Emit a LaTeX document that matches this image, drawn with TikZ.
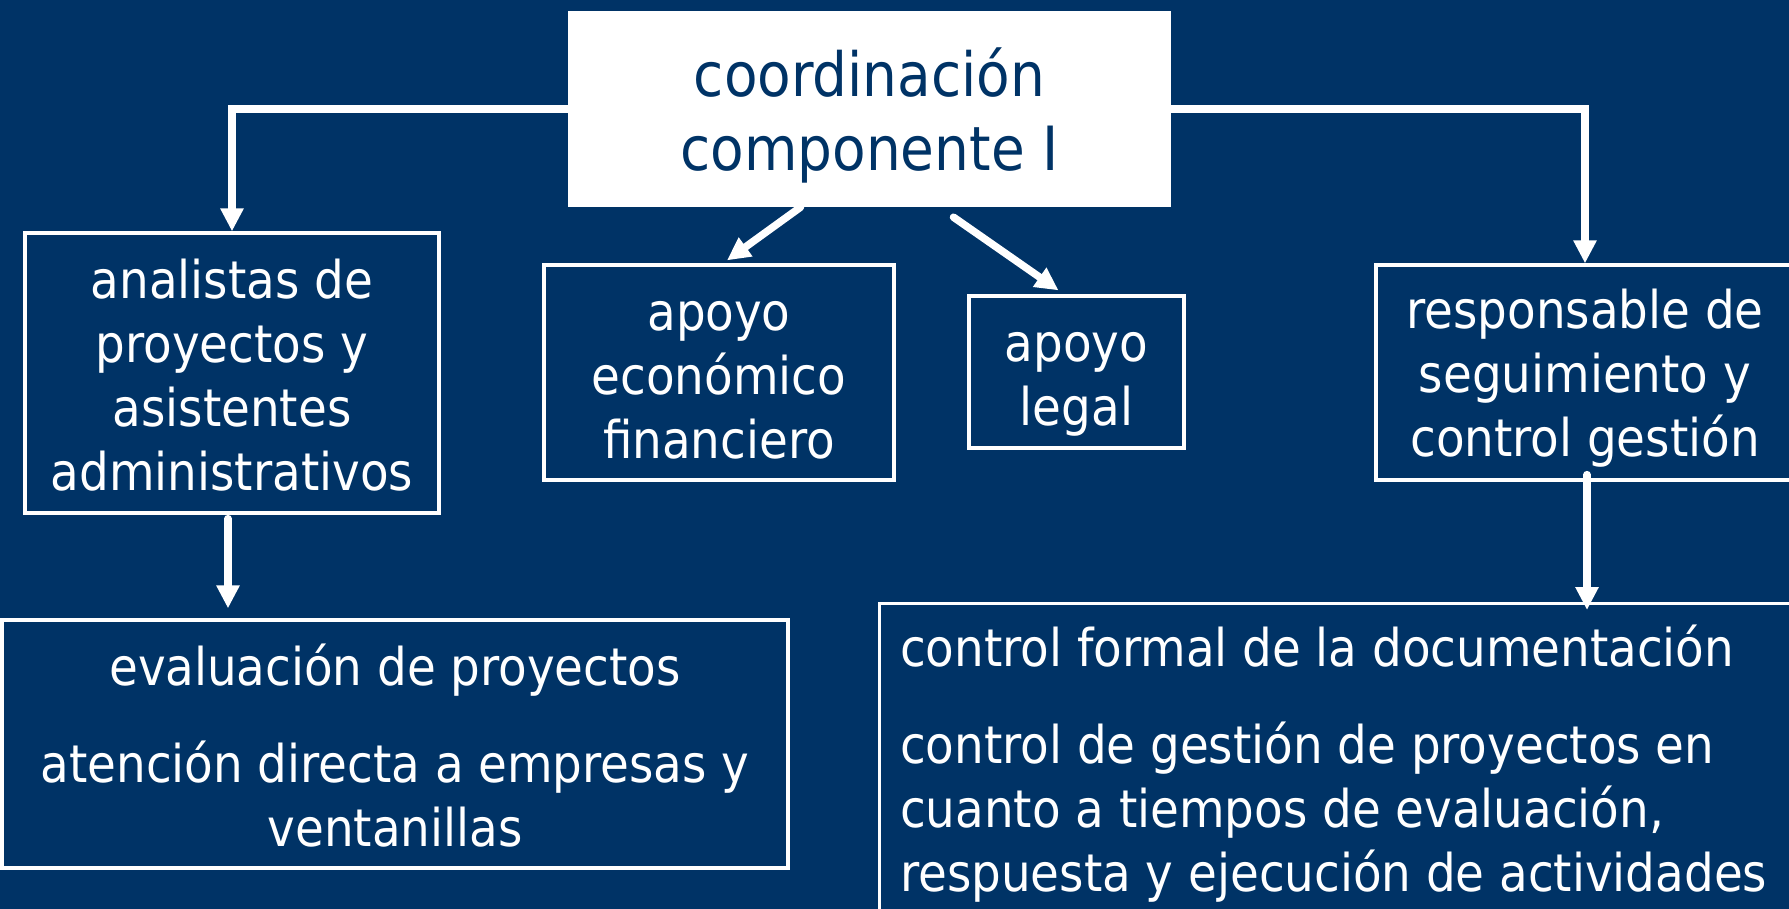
\documentclass[tikz,border=0pt]{standalone}
\usepackage{fontspec}
\setmainfont{DejaVu Sans Condensed}
\usetikzlibrary{arrows.meta,calc,positioning}
\definecolor{navy}{RGB}{0,51,102}
\tikzstyle{headbox} = [rectangle,fill=white,minimum width=603pt,minimum height=196pt]
\tikzstyle{headtext} = [text=navy,align=center,font=\fontsize{61}{74}\selectfont]
\tikzstyle{unitbox} = [rectangle,draw=white,line width=3.3pt]
\tikzstyle{unittext} = [text=white,align=center,font=\fontsize{52}{64}\selectfont]
\tikzstyle{link} = [draw=white,line width=7.5pt,-{Triangle[length=23pt,width=22pt]}]

\begin{document}
\begin{tikzpicture}[x=1pt,y=-1pt]

\useasboundingbox (0,0) rectangle (1789,909);
\clip (0,0) rectangle (1789,909);
\fill[navy] (0,0) rectangle (1789,909);

\node (coord) [headbox] at (869.5,109) {};
\node (coordtext) [headtext] at ($(coord)+(0,6)$) {coordinación\\componente I};

\node (analistas) [unitbox,minimum width=414pt,minimum height=280pt] at (232,373) {};
\node (analistastext) [unittext] at ($(analistas)+(0,2)$) {analistas de\\proyectos y\\asistentes\\administrativos};
\node (economico) [unitbox,minimum width=350pt,minimum height=215pt] at (719,372.5) {};
\node (economicotext) [unittext] at ($(economico)+(0,8)$) {apoyo\\económico\\financiero};
\node (legal) [unitbox,minimum width=215pt,minimum height=152pt] at (1076.5,372) {};
\node (legaltext) [unittext] at ($(legal)+(0,12)$) {apoyo\\legal};
\node (seguimiento) [unitbox,minimum width=418pt,minimum height=215pt] at (1585,372.5) {};
\node (seguimientotext) [unittext] at ($(seguimiento)+(0,6)$) {responsable de\\seguimiento y\\control gestión};

\node (evaluacion) [unitbox,minimum width=786pt,minimum height=248pt] at (395,744) {};
\node (evaluaciontext) [unittext] at ($(evaluacion)+(0,2)$) {evaluación de proyectos\\[33pt]atención directa a empresas y\\ventanillas};
\node (control) [unitbox,anchor=north west,minimum width=960pt,minimum height=400pt] at (878,602) {};
\node (controltext) [unittext,anchor=north west,inner sep=0pt,align=left] at ($(control.north west)+(22,23)$) {control formal de la documentación\\[33pt]control de gestión de proyectos en\\cuanto a tiempos de evaluación,\\respuesta y ejecución de actividades};

% connectors
\draw[link] (coord.west) -| (analistas.north);
\draw[link] (coord.east) -| (seguimiento.north);
\draw[link,line cap=round] ($(coord.south)+(-69,0)$) -- ($(economico.north)+(8,-3)$);
\draw[link,line cap=round] ($(coord.south)+(84,10)$) -- ($(legal.north)+(-18,-4)$);
\draw[link,line cap=round] ($(analistas.south)+(-4,4)$) -- ($(analistas.south |- evaluacion.north)+(-4,-10)$);
\draw[link,line cap=round] ($(seguimiento.south)+(2,-7)$) -- ($(seguimiento.south |- control.north)+(2,8)$);

\end{tikzpicture}
\end{document}
